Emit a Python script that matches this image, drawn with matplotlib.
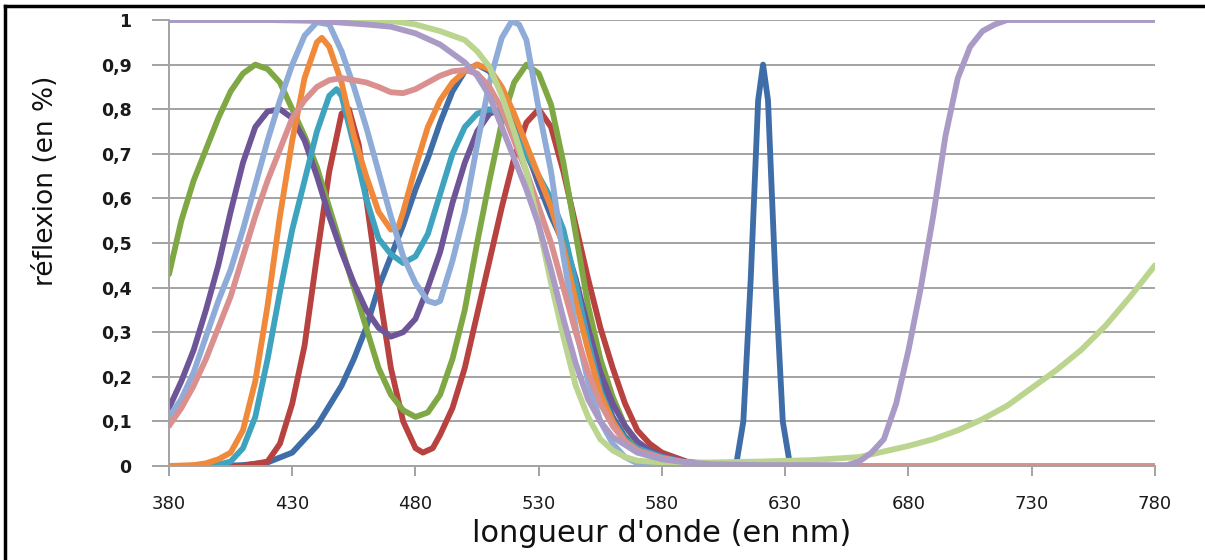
import matplotlib
matplotlib.use("Agg")
import matplotlib.pyplot as plt
from matplotlib.lines import Line2D
from matplotlib.ticker import FuncFormatter, MultipleLocator

# ─── Data ─────────────────────────────────────────────────────────────────────
blue_wl = [380, 400, 410, 420, 430, 440, 450, 455, 460, 465, 470, 475, 480, 485, 490,
           495, 500, 505, 510, 515, 520, 525, 530, 535, 540, 545, 550, 555, 560, 565,
           570, 580, 590, 600, 610, 613, 616, 619, 621, 623, 626, 629, 632, 650, 780]
blue_r = [0, 0, 0.002, 0.008, 0.03, 0.09, 0.18, 0.24, 0.31, 0.40, 0.47, 0.54, 0.62,
          0.69, 0.77, 0.84, 0.885, 0.9, 0.885, 0.84, 0.78, 0.71, 0.63, 0.56, 0.5, 0.39,
          0.28, 0.18, 0.11, 0.065, 0.04, 0.015, 0.005, 0.001, 0, 0.1, 0.42, 0.82, 0.9,
          0.82, 0.42, 0.1, 0, 0, 0]

red_wl = [380, 410, 420, 425, 430, 435, 440, 445, 450, 453, 457, 460, 465, 470, 475,
          480, 483, 487, 490, 495, 500, 505, 510, 515, 520, 525, 530, 535, 540, 545,
          550, 555, 560, 565, 570, 575, 580, 590, 600, 610, 780]
red_r = [0, 0, 0.01, 0.05, 0.14, 0.27, 0.47, 0.66, 0.79, 0.8, 0.72, 0.6, 0.4, 0.22,
         0.1, 0.04, 0.03, 0.04, 0.07, 0.13, 0.22, 0.34, 0.46, 0.58, 0.69, 0.77, 0.8,
         0.76, 0.66, 0.54, 0.42, 0.31, 0.22, 0.14, 0.08, 0.05, 0.03, 0.01, 0.003, 0, 0]

green_wl = [380, 385, 390, 395, 400, 405, 410, 415, 420, 425, 430, 435, 440, 445, 450,
            455, 460, 465, 470, 475, 480, 485, 490, 495, 500, 505, 510, 515, 520, 525,
            530, 535, 540, 545, 550, 555, 560, 565, 570, 575, 580, 590, 600, 610, 780]
green_r = [0.43, 0.55, 0.64, 0.71, 0.78, 0.84, 0.88, 0.9, 0.89, 0.86, 0.8, 0.74, 0.67,
           0.58, 0.49, 0.4, 0.31, 0.22, 0.16, 0.125, 0.11, 0.12, 0.16, 0.24, 0.35, 0.5,
           0.64, 0.77, 0.86, 0.9, 0.88, 0.81, 0.68, 0.52, 0.36, 0.24, 0.155, 0.09, 0.05,
           0.03, 0.02, 0.008, 0.002, 0, 0]

purple_wl = [380, 385, 390, 395, 400, 405, 410, 415, 420, 425, 430, 435, 440, 445, 450,
             455, 460, 465, 470, 475, 480, 485, 490, 495, 500, 505, 510, 515, 520, 525,
             530, 535, 540, 545, 550, 555, 560, 565, 570, 575, 580, 590, 600, 610, 780]
purple_r = [0.13, 0.19, 0.26, 0.35, 0.45, 0.57, 0.68, 0.76, 0.795, 0.8, 0.78, 0.73, 0.65,
            0.56, 0.48, 0.41, 0.35, 0.31, 0.29, 0.3, 0.33, 0.4, 0.48, 0.59, 0.68, 0.75,
            0.79, 0.8, 0.76, 0.7, 0.64, 0.58, 0.51, 0.42, 0.31, 0.21, 0.14, 0.09, 0.055,
            0.035, 0.022, 0.009, 0.003, 0, 0]

teal_wl = [380, 395, 400, 405, 410, 415, 420, 425, 430, 435, 440, 445, 448, 450, 455,
           460, 465, 470, 475, 480, 485, 490, 495, 500, 505, 510, 515, 520, 525, 530,
           535, 540, 545, 550, 555, 560, 565, 570, 580, 590, 600, 610, 780]
teal_r = [0, 0, 0.003, 0.01, 0.04, 0.11, 0.24, 0.39, 0.53, 0.64, 0.75, 0.83, 0.845, 0.83,
          0.72, 0.6, 0.51, 0.475, 0.455, 0.47, 0.52, 0.61, 0.7, 0.76, 0.79, 0.8, 0.79,
          0.75, 0.7, 0.65, 0.6, 0.53, 0.41, 0.28, 0.17, 0.1, 0.06, 0.04, 0.02, 0.008,
          0.003, 0, 0]

orange_wl = [380, 390, 395, 400, 405, 410, 415, 420, 425, 430, 435, 440, 442, 445, 450,
             455, 460, 465, 470, 473, 475, 480, 485, 490, 495, 500, 505, 510, 515, 520,
             525, 530, 535, 540, 545, 550, 555, 560, 565, 570, 580, 590, 600, 610, 780]
orange_r = [0, 0.002, 0.006, 0.015, 0.03, 0.08, 0.19, 0.36, 0.56, 0.73, 0.87, 0.95, 0.96,
            0.94, 0.86, 0.74, 0.65, 0.57, 0.53, 0.535, 0.57, 0.67, 0.76, 0.82, 0.86,
            0.885, 0.9, 0.89, 0.85, 0.79, 0.72, 0.65, 0.58, 0.49, 0.37, 0.26, 0.16, 0.1,
            0.055, 0.035, 0.015, 0.006, 0.002, 0, 0]

lblue_wl = [380, 385, 390, 395, 400, 405, 410, 415, 420, 425, 430, 435, 440, 445, 450,
            455, 460, 465, 470, 475, 480, 485, 488, 490, 495, 500, 505, 510, 515, 519,
            522, 525, 530, 535, 540, 545, 550, 555, 560, 565, 570, 580, 590, 780]
lblue_r = [0.11, 0.15, 0.21, 0.29, 0.37, 0.44, 0.53, 0.63, 0.73, 0.82, 0.9, 0.965, 0.995,
           0.99, 0.93, 0.85, 0.76, 0.66, 0.56, 0.47, 0.41, 0.37, 0.365, 0.37, 0.46, 0.57,
           0.72, 0.86, 0.96, 0.997, 0.99, 0.955, 0.8, 0.66, 0.47, 0.31, 0.19, 0.1, 0.05,
           0.02, 0.006, 0.001, 0, 0]

pink_wl = [380, 385, 390, 395, 400, 405, 410, 415, 420, 425, 430, 435, 440, 445, 450,
           455, 460, 465, 470, 475, 480, 485, 490, 495, 500, 505, 510, 515, 520, 525,
           530, 535, 540, 545, 550, 555, 560, 565, 570, 580, 590, 600, 610, 780]
pink_r = [0.09, 0.13, 0.18, 0.24, 0.31, 0.38, 0.47, 0.56, 0.64, 0.71, 0.78, 0.82, 0.85,
          0.865, 0.87, 0.865, 0.86, 0.85, 0.838, 0.836, 0.845, 0.86, 0.875, 0.885, 0.888,
          0.88, 0.85, 0.8, 0.73, 0.66, 0.58, 0.5, 0.4, 0.3, 0.21, 0.14, 0.09, 0.055,
          0.035, 0.018, 0.008, 0.003, 0, 0]

lgreen_wl = [380, 460, 470, 480, 490, 495, 500, 505, 510, 515, 520, 525, 530, 535, 540,
             545, 550, 555, 560, 565, 570, 580, 600, 620, 640, 660, 680, 690, 700, 710,
             720, 730, 740, 750, 760, 770, 780]
lgreen_r = [1, 1, 0.998, 0.99, 0.975, 0.965, 0.955, 0.93, 0.895, 0.83, 0.75, 0.66, 0.54,
            0.41, 0.29, 0.18, 0.11, 0.06, 0.035, 0.02, 0.012, 0.008, 0.008, 0.01, 0.013,
            0.02, 0.045, 0.06, 0.08, 0.105, 0.135, 0.175, 0.215, 0.26, 0.315, 0.38, 0.45]

lav_wl = [380, 420, 440, 460, 470, 480, 490, 500, 505, 510, 515, 520, 525, 530, 535,
          540, 545, 550, 555, 560, 570, 580, 590, 600, 620, 655, 660, 665, 670, 675,
          680, 685, 690, 695, 700, 705, 710, 715, 720, 780]
lav_r = [1, 1, 0.998, 0.99, 0.985, 0.97, 0.945, 0.905, 0.875, 0.83, 0.76, 0.69, 0.62,
         0.54, 0.44, 0.33, 0.23, 0.15, 0.1, 0.065, 0.03, 0.015, 0.008, 0.004, 0.002,
         0.002, 0.01, 0.03, 0.06, 0.14, 0.26, 0.4, 0.56, 0.74, 0.87, 0.94, 0.975, 0.99,
         1, 1]

SERIES = [
    (blue_wl, blue_r, "#3F6DA8"),
    (red_wl, red_r, "#B8423F"),
    (green_wl, green_r, "#7FA844"),
    (purple_wl, purple_r, "#6E5598"),
    (teal_wl, teal_r, "#3DA3BE"),
    (orange_wl, orange_r, "#F0893A"),
    (lblue_wl, lblue_r, "#8FACD9"),
    (pink_wl, pink_r, "#D9908E"),
    (lgreen_wl, lgreen_r, "#BBD48E"),
    (lav_wl, lav_r, "#A99AC6"),
]

x_ticks = [380, 430, 480, 530, 580, 630, 680, 730, 780]

# ─── Figure ───────────────────────────────────────────────────────────────────
fig = plt.figure(figsize=(12.05, 5.6), dpi=100)
ax = fig.add_axes([169 / 1205, 1 - 466 / 560, (1155 - 169) / 1205, (466 - 20) / 560])

for wl, r, col in SERIES:
    ax.plot(wl, r, color=col, linewidth=4.2, solid_capstyle="round",
            solid_joinstyle="round")

ax.set_xlim(380, 780)
ax.set_ylim(0, 1)
ax.set_xticks(x_ticks)
ax.yaxis.set_major_locator(MultipleLocator(0.1))
ax.yaxis.set_major_formatter(FuncFormatter(
    lambda v, _: "0" if abs(v) < 1e-9 else ("1" if abs(v - 1) < 1e-9 else f"{v:.1f}".replace(".", ","))))

ax.grid(axis="y", color="#A3A3A3", linewidth=1.4)
ax.set_axisbelow(True)
for side in ("top", "right"):
    ax.spines[side].set_visible(False)
for side in ("left", "bottom"):
    ax.spines[side].set_color("#A3A3A3")
    ax.spines[side].set_linewidth(1.4)

ax.tick_params(axis="y", direction="out", length=12, width=1.4, color="#A3A3A3",
               pad=15, labelsize=12.5, labelcolor="#1a1a1a")
ax.tick_params(axis="x", direction="out", length=7, width=1.4, color="#A3A3A3",
               pad=14, labelsize=13, labelcolor="#1a1a1a")
for lab in ax.get_yticklabels():
    lab.set_fontweight("bold")

ax.set_xlabel("longueur d'onde (en nm)", fontsize=22, labelpad=4, color="#111111")
ax.set_ylabel("réflexion (en %)", fontsize=19, color="#111111")
ax.yaxis.set_label_coords(-0.112, 0.64)

# black frame (top and left edges of the screenshot)
fig.add_artist(Line2D([5 / 1205, 1], [1 - 6 / 560, 1 - 6 / 560], color="black",
                      linewidth=2.5, transform=fig.transFigure))
fig.add_artist(Line2D([5 / 1205, 5 / 1205], [0, 1 - 6 / 560], color="black",
                      linewidth=2.5, transform=fig.transFigure))

fig.savefig("out.png", dpi=100)
